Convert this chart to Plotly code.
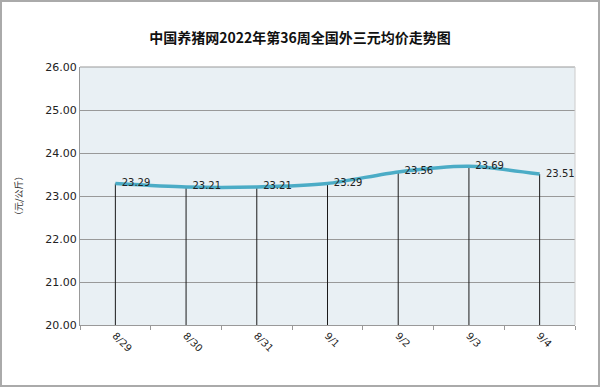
import plotly.graph_objects as go

dates = ["8/29", "8/30", "8/31", "9/1", "9/2", "9/3", "9/4"]
prices = [23.29, 23.21, 23.21, 23.29, 23.56, 23.69, 23.51]
y_ticks = [20, 21, 22, 23, 24, 25, 26]
title = "中国养猪网2022年第36周全国外三元均价走势图"
y_title = "（元/公斤）"

W, H = 600, 387
L, R, T, B = 80, 25, 67, 62
pw, ph = W - L - R, H - T - B

fig = go.Figure()

# drop lines
dx, dy = [], []
for d, p in zip(dates, prices):
    dx += [d, d, None]
    dy += [y_ticks[0], p, None]
fig.add_trace(go.Scatter(x=dx, y=dy, mode="lines",
                         line=dict(color="#1a1a1a", width=1),
                         hoverinfo="skip", showlegend=False))

fig.add_trace(go.Scatter(x=dates, y=prices, mode="lines+text",
                         line=dict(color="#4BACC6", width=3.5, shape="spline", smoothing=0.7),
                         text=[f"  {p:.2f}" for p in prices],
                         textposition="middle right",
                         textfont=dict(family="DejaVu Sans", size=10, color="#222"),
                         showlegend=False))

fig.update_layout(
    width=W, height=H,
    margin=dict(l=L, r=R, t=T, b=B),
    paper_bgcolor="white",
    plot_bgcolor="#E9F0F4",
    title=dict(text=f"<b>{title}</b>", x=0.5, xanchor="center", y=1 - 38 / H, yanchor="middle",
               font=dict(family="Noto Sans CJK SC", size=14, color="#111")),
    xaxis=dict(type="category", range=[-0.5, 6.5], tickangle=45,
               tickfont=dict(family="DejaVu Sans", size=10, color="#222"),
               showgrid=False, showline=True, linecolor="#999", linewidth=1,
               ticks="outside", ticklen=4, tickcolor="#999", tickson="boundaries",
               zeroline=False),
    yaxis=dict(range=[20, 26], tickvals=y_ticks, ticktext=[f"{v:.2f}" for v in y_ticks],
               tickfont=dict(family="DejaVu Sans", size=11, color="#222"),
               showgrid=True, gridcolor="#999", gridwidth=1,
               showline=True, linecolor="#999", mirror=False, zeroline=False,
               ticks="", title=None),
    annotations=[
        dict(text=y_title, textangle=-90, xref="paper", yref="paper",
             x=-(L - 18) / pw, y=0.5, showarrow=False, xanchor="center", yanchor="middle",
             font=dict(family="Noto Sans CJK SC", size=9, color="#333")),
    ],
    shapes=[
        dict(type="rect", xref="paper", yref="paper", layer="above",
             x0=-(L - 1) / pw, x1=1 + (R - 1) / pw, y0=-(B - 1) / ph, y1=1 + (T - 1) / ph,
             line=dict(color="#AAAAAA", width=2)),
        dict(type="line", xref="paper", yref="paper", x0=0, x1=1, y0=1, y1=1,
             line=dict(color="#999", width=1)),
        dict(type="line", xref="paper", yref="paper", x0=1, x1=1, y0=0, y1=1,
             line=dict(color="#ccc", width=1)),
    ],
)

fig.write_html("out.html", config={"displayModeBar": False},
               post_script="document.body.style.margin='0';document.body.style.overflow='hidden';")
